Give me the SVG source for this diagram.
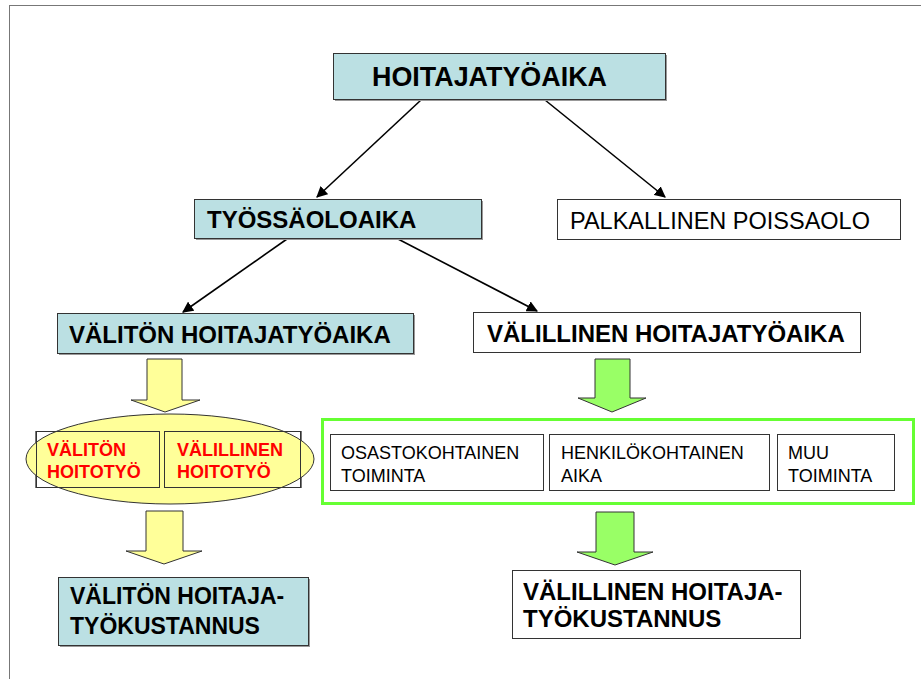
<svg xmlns="http://www.w3.org/2000/svg" width="921" height="679" viewBox="0 0 921 679">
  <style>
    .t { font-family: "Liberation Sans", Arial, sans-serif; fill: #000; }
    .b { font-weight: bold; }
    .red { fill: #ff0000; font-weight: bold; font-size: 18px; }
    .teal { fill: #bbe0e3; stroke: #333; stroke-width: 1; }
    .white { fill: #fff; stroke: #333; stroke-width: 1; }
    .shadow { fill: #999; }
    .conn { stroke: #000; stroke-width: 1.6; fill: none; marker-end: url(#ah); }
    .yarrow { fill: #ffff99; stroke: #333; stroke-width: 1; }
    .garrow { fill: #99ff66; stroke: #333; stroke-width: 1; }
  </style>
  <defs>
    <marker id="ah" viewBox="0 0 10 10" refX="9" refY="5" markerWidth="7" markerHeight="7" orient="auto" markerUnits="strokeWidth">
      <path d="M0,0 L10,5 L0,10 Z" fill="#000"/>
    </marker>
  </defs>

  <rect width="921" height="679" fill="#fff"/>
  <!-- page frame -->
  <rect x="9.5" y="5.5" width="930" height="700" fill="none" stroke="#777" stroke-width="1"/>

  <!-- connectors -->
  <g id="connectors">
    <line class="conn" x1="421" y1="100" x2="317" y2="197"/>
    <line class="conn" x1="545" y1="100" x2="665" y2="197"/>
    <line class="conn" x1="287" y1="239" x2="183" y2="312"/>
    <line class="conn" x1="398" y1="239" x2="537" y2="311"/>
    <polygon class="yarrow" points="147,359 182,359 182,400 200,400 165,412 131,400 147,400"/>
    <polygon class="yarrow" points="146,511 183,511 183,551 202,551 164,564 126,551 146,551"/>
    <polygon class="garrow" points="595,359 630,359 630,398 646,398 612,412 578,398 595,398"/>
    <polygon class="garrow" points="596,512 634,512 634,552 653,552 615,565 577,552 596,552"/>
  </g>

  <g id="hoitajatyoaika">
    <rect class="shadow" x="335" y="55" width="332" height="46"/>
    <rect class="teal" x="333.5" y="53.5" width="332" height="46"/>
    <text class="t b" x="372" y="86" font-size="28" textLength="235" lengthAdjust="spacingAndGlyphs">HOITAJATYÖAIKA</text>
  </g>

  <g id="tyossaoloaika">
    <rect class="shadow" x="196" y="201" width="287" height="39"/>
    <rect class="teal" x="194.5" y="199.5" width="287" height="39"/>
    <text class="t b" x="207" y="228" font-size="24">TYÖSSÄOLOAIKA</text>
  </g>

  <g id="palkallinen-poissaolo">
    <rect class="white" x="557.5" y="199.5" width="343" height="40"/>
    <text class="t" x="570" y="229" font-size="23.5">PALKALLINEN POISSAOLO</text>
  </g>

  <g id="valiton-hoitajatyoaika">
    <rect class="shadow" x="59" y="315" width="356" height="40"/>
    <rect class="teal" x="57.5" y="313.5" width="356" height="40"/>
    <text class="t b" x="69" y="343" font-size="24">VÄLITÖN HOITAJATYÖAIKA</text>
  </g>

  <g id="valillinen-hoitajatyoaika">
    <rect class="white" x="473.5" y="312.5" width="387" height="40"/>
    <text class="t b" x="487" y="342" font-size="24">VÄLILLINEN HOITAJATYÖAIKA</text>
  </g>

  <g id="hoitotyo">
    <rect x="35.5" y="431.5" width="266" height="56" fill="none" stroke="#777" stroke-width="1"/>
    <ellipse cx="170" cy="459" rx="144" ry="45" fill="#ffff99" stroke="#333" stroke-width="1"/>
    <rect x="36.5" y="431.5" width="123" height="56" fill="none" stroke="#333" stroke-width="1"/>
    <rect x="164.5" y="431.5" width="136" height="56" fill="none" stroke="#333" stroke-width="1"/>
    <text class="t red" x="47" y="456">VÄLITÖN</text>
    <text class="t red" x="47" y="478">HOITOTYÖ</text>
    <text class="t red" x="177" y="456">VÄLILLINEN</text>
    <text class="t red" x="177" y="478">HOITOTYÖ</text>
  </g>

  <g id="valillinen-toiminnot">
    <rect x="322.5" y="419.5" width="591" height="84" fill="#fff" stroke="#66ff33" stroke-width="3"/>
    <rect class="white" x="330.5" y="434.5" width="213" height="56"/>
    <rect class="white" x="549.5" y="434.5" width="220" height="56"/>
    <rect class="white" x="777.5" y="434.5" width="117" height="56"/>
    <text class="t" x="341" y="459" font-size="18">OSASTOKOHTAINEN</text>
    <text class="t" x="341" y="482" font-size="18">TOIMINTA</text>
    <text class="t" x="561" y="459" font-size="18">HENKILÖKOHTAINEN</text>
    <text class="t" x="561" y="482" font-size="18">AIKA</text>
    <text class="t" x="788" y="459" font-size="18">MUU</text>
    <text class="t" x="788" y="482" font-size="18">TOIMINTA</text>
  </g>

  <g id="valiton-kustannus">
    <rect class="shadow" x="60" y="579" width="250" height="68"/>
    <rect class="teal" x="58.5" y="577.5" width="250" height="68"/>
    <text class="t b" x="70" y="604" font-size="23">VÄLITÖN HOITAJA-</text>
    <text class="t b" x="70" y="634" font-size="23">TYÖKUSTANNUS</text>
  </g>

  <g id="valillinen-kustannus">
    <rect class="white" x="512.5" y="570.5" width="288" height="68"/>
    <text class="t b" x="523" y="600" font-size="24">VÄLILLINEN HOITAJA-</text>
    <text class="t b" x="523" y="627" font-size="24">TYÖKUSTANNUS</text>
  </g>
</svg>
